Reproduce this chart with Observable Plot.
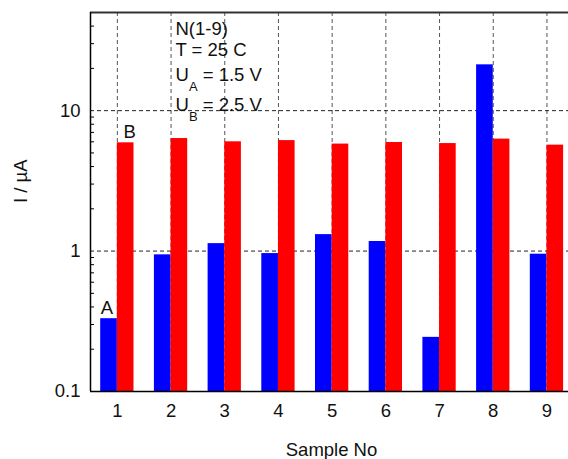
<!DOCTYPE html>
<html>
<head>
<meta charset="utf-8">
<script src="https://cdn.jsdelivr.net/npm/d3@7"></script>
<script src="https://cdn.jsdelivr.net/npm/@observablehq/plot@0.6"></script>
<style>
  html, body { margin: 0; padding: 0; background: #fff; overflow: hidden; }
</style>
</head>
<body>
<div id="chart"></div>
<script>
// ---- data ----
const samples = [1, 2, 3, 4, 5, 6, 7, 8, 9];
const seriesA = [0.33, 0.94, 1.13, 0.96, 1.31, 1.17, 0.243, 21.2, 0.95];   // blue
const seriesB = [5.90, 6.33, 6.00, 6.12, 5.78, 5.93, 5.83, 6.27, 5.68];    // red
const seriesNames = ["A", "B"];
const yTicks = [0.1, 1, 10];
const yMinorTicks = [0.2, 0.3, 0.4, 0.5, 0.6, 0.7, 0.8, 0.9, 2, 3, 4, 5, 6, 7, 8, 9, 20, 30, 40];
const yGrid = [1, 10];
const xDomain = [0.5, 9.5];
const yDomain = [0.1, 50];
const annotationLines = ["N(1-9)", "T = 25 C", "U_A = 1.5 V", "U_B = 2.5 V"];
const xLabel = "Sample No";
const yLabel = "I / µA";

// ---- layout / style ----
const W = 568, H = 459;
const mL = 90, mR = 0, mT = 12, mB = 68;
const barW = 0.31;
const BLUE = "#0000ff", RED = "#ff0000";
const INK = "#111";
const FONT = "'Liberation Sans', Arial, Helvetica, sans-serif";
const FS = 18.5;

const rowsA = samples.map((s, i) => ({sample: s, value: seriesA[i]}));
const rowsB = samples.map((s, i) => ({sample: s, value: seriesB[i]}));

const annDy = [22.5, 43.5, 68.7, 98.7];

const chart = Plot.plot({
  width: W,
  height: H,
  marginLeft: mL,
  marginRight: mR,
  marginTop: mT,
  marginBottom: mB,
  style: {fontFamily: FONT, fontSize: FS + "px", color: INK, background: "#fff", overflow: "visible"},
  x: {type: "linear", domain: xDomain, range: [mL, mL + 53.7 * 9]},
  y: {type: "log", domain: yDomain},
  marks: [
    // dashed grid
    Plot.ruleX(samples, {x: d => d, stroke: "#555", strokeDasharray: "4,3", strokeWidth: 1}),
    Plot.ruleY(yGrid, {y: d => d, stroke: "#222", strokeDasharray: "4,3", strokeWidth: 1}),
    // bars
    Plot.rect(rowsA, {x1: d => d.sample - barW, x2: d => d.sample, y1: () => yDomain[0], y2: "value", fill: BLUE}),
    Plot.rect(rowsB, {x1: d => d.sample, x2: d => d.sample + barW, y1: () => yDomain[0], y2: "value", fill: RED}),
    // frame lines
    Plot.ruleY([yDomain[1]], {y: d => d, stroke: "#333", strokeWidth: 2}),
    Plot.ruleX([xDomain[0]], {x: d => d, stroke: "#000", strokeWidth: 1.5}),
    Plot.ruleY([yDomain[0]], {y: d => d, stroke: "#000", strokeWidth: 1.5}),
    // inward minor ticks
    Plot.ruleY(yMinorTicks, {y: d => d, stroke: "#000", strokeWidth: 1, insetRight: W - mL - mR - 4}),
    // axes
    Plot.axisY({ticks: yTicks, tickFormat: d => String(d), tickSize: 0, tickPadding: 10, label: null, fill: INK, fontSize: FS}),
    Plot.axisX({ticks: samples, tickFormat: d => String(d), tickSize: 0, tickPadding: 12, label: null, fill: INK, fontSize: FS}),
    // axis titles
    Plot.text([xLabel], {frameAnchor: "bottom", lineAnchor: "top", dy: 51, dx: 2, fontSize: FS, fill: INK}),
    Plot.text([yLabel], {frameAnchor: "left", rotate: -90, lineAnchor: "middle", dx: -69.5, dy: 1, fontSize: FS, fill: INK}),
    // series labels
    Plot.text([seriesNames[0]], {x: () => samples[0] - barW / 2, y: () => seriesA[0], lineAnchor: "bottom", dy: -5, dx: -2, fontSize: FS, fill: INK}),
    Plot.text([seriesNames[1]], {x: () => samples[0] + barW / 2, y: () => seriesB[0], lineAnchor: "bottom", dy: -5, dx: 4, fontSize: FS, fill: INK}),
    // annotation block
    ...annotationLines.map((t, i) =>
      Plot.text([t], {frameAnchor: "top-left", textAnchor: "start", lineAnchor: "bottom", dx: 85, dy: annDy[i], fontSize: FS, fill: INK})
    )
  ]
});

// subscripts for U_A / U_B
d3.select(chart).selectAll("text").each(function () {
  const t = this.textContent;
  const m = /^(\w)_(\w)(.*)$/.exec(t);
  if (m) {
    const s = d3.select(this);
    s.text(null);
    s.append("tspan").text(m[1]);
    s.append("tspan").attr("dy", 9.3).attr("font-size", 13).text(m[2]);
    s.append("tspan").attr("dy", -9.3).text(m[3]);
  }
});

document.getElementById("chart").append(chart);
</script>
</body>
</html>
